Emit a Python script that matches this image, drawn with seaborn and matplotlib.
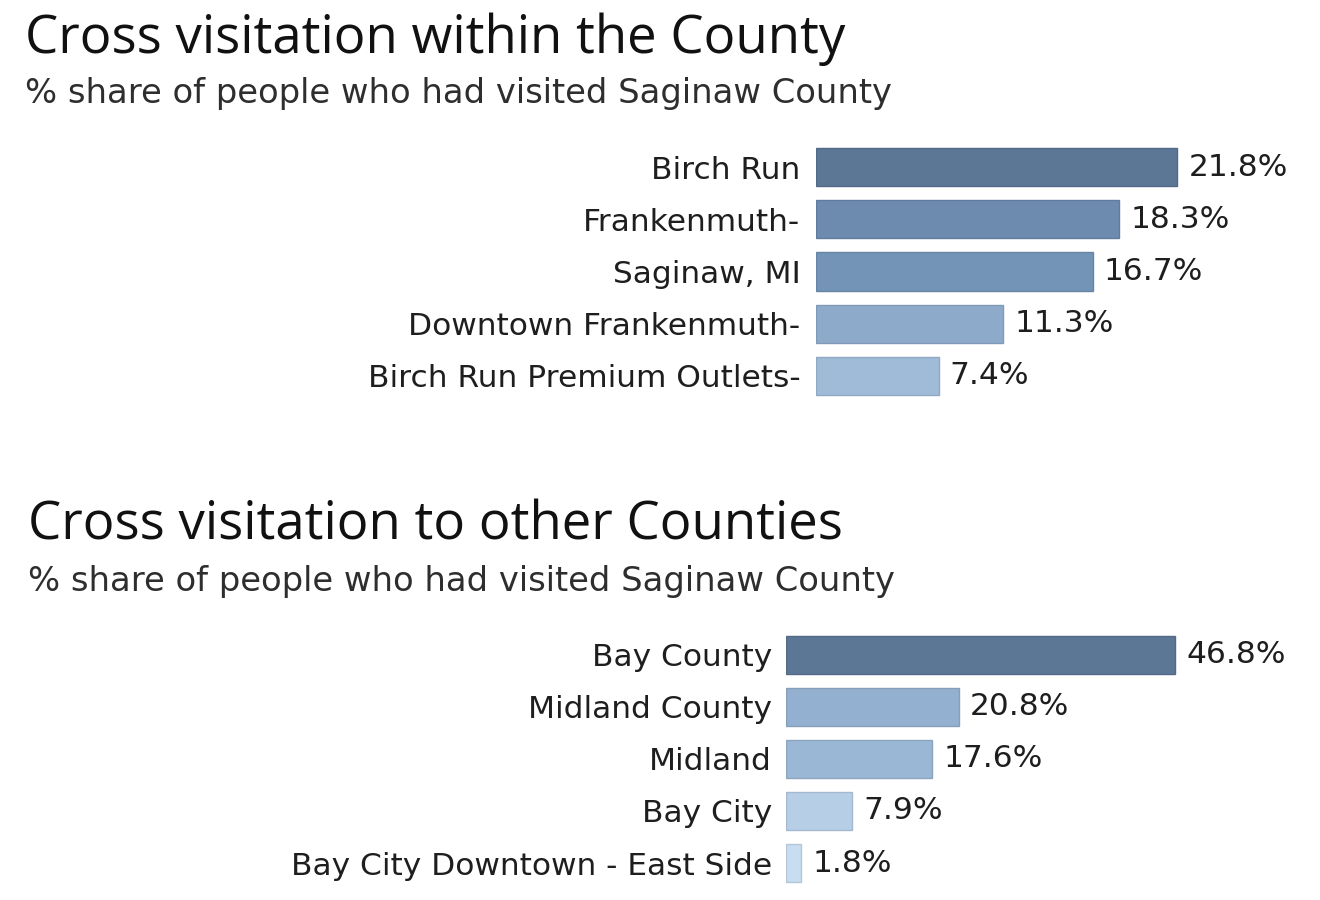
import matplotlib
matplotlib.use("Agg")
import matplotlib.pyplot as plt
import matplotlib.colors as mcolors
import seaborn as sns
import pandas as pd

#=============================================================================
# Data
#=============================================================================
within_places = ["Birch Run", "Frankenmuth-", "Saginaw, MI",
                 "Downtown Frankenmuth-", "Birch Run Premium Outlets-"]
within_share = [21.8, 18.3, 16.7, 11.3, 7.4]

other_places = ["Bay County", "Midland County", "Midland",
                "Bay City", "Bay City Downtown - East Side"]
other_share = [46.8, 20.8, 17.6, 7.9, 1.8]

title_top = "Cross visitation within the County"
title_bottom = "Cross visitation to other Counties"
subtitle = "% share of people who had visited Saginaw County"

#=============================================================================
# Style
#=============================================================================
sns.set_style("white")
plt.rcParams["font.family"] = ["DejaVu Sans"]

# blue ramp, value / max of the panel
blue_ramp = mcolors.LinearSegmentedColormap.from_list(
    "blues_tab",
    [(0.0, "#cde1f3"), (0.40, "#97b4d3"), (0.55, "#8ba7c8"),
     (0.80, "#7090b5"), (1.0, "#5c7696")]
)


def bar_panel(ax, names, values, xmax, pad):
    df = pd.DataFrame({"place": names, "share": values})
    top = max(values)
    colors = [blue_ramp(v / top) for v in values]
    sns.barplot(
        data=df, x="share", y="place", hue="place",
        palette=colors, legend=False, width=0.73, ax=ax,
        saturation=1
    )
    for patch, c in zip(ax.patches, colors):
        r, g, b, _ = c
        patch.set_edgecolor((r * 0.9, g * 0.9, b * 0.9))
        patch.set_linewidth(1.0)
    for container in ax.containers:
        ax.bar_label(container, fmt="%.1f%%", padding=8,
                     fontsize=22.5, color="#1e1e1e")
    ax.set_xlim(0, xmax)
    ax.set_ylim(4.5, -0.5)
    ax.set_xlabel("")
    ax.set_ylabel("")
    ax.set_xticks([])
    ax.tick_params(axis="y", length=0, pad=pad, labelsize=22.5,
                   labelcolor="#1e1e1e")
    sns.despine(ax=ax, left=True, bottom=True)


fig = plt.figure(figsize=(13.2, 9), dpi=100)

ax1 = fig.add_axes([0.618, 0.5533, 0.367, 0.29])
bar_panel(ax1, within_places, within_share, 29.2, 11)

ax2 = fig.add_axes([0.5955, 0.0122, 0.3895, 0.289])
bar_panel(ax2, other_places, other_share, 61.8, 10)

# titles
fig.text(0.019, 0.956, title_top, family=["Open Sans", "DejaVu Sans"],
         fontsize=38, color="#111111", va="center", ha="left")
fig.text(0.019, 0.896, subtitle, fontsize=24.3, color="#2e2e2e",
         va="center", ha="left")
fig.text(0.021, 0.416, title_bottom, family=["Open Sans", "DejaVu Sans"],
         fontsize=38, color="#111111", va="center", ha="left")
fig.text(0.021, 0.354, subtitle, fontsize=24.3, color="#2e2e2e",
         va="center", ha="left")

fig.savefig("out.png", dpi=100)
